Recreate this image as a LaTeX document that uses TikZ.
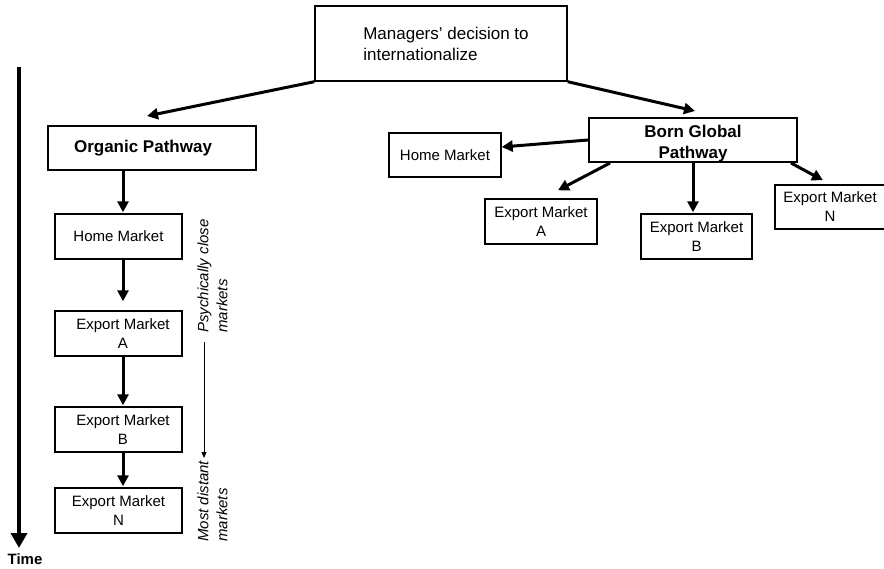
\documentclass[tikz,border=0pt]{standalone}
\usepackage{fontspec}
\setmainfont{Liberation Sans}
\usetikzlibrary{arrows.meta,calc}
\begin{document}
\begin{tikzpicture}[x=1pt,y=-1pt,
  box/.style={draw,line width=1.4pt,inner sep=0pt,align=center,
              font=\fontsize{15}{19}\selectfont},
  titlebox/.style={draw,line width=2pt,inner sep=0pt,
              font=\fontsize{17}{21}\selectfont\bfseries},
  arr/.style={line width=3pt,-{Triangle[length=11pt,width=11pt]}},
  thinarr/.style={line width=1pt,-{Triangle[length=6pt,width=5pt]}},
  side/.style={rotate=90,anchor=west,inner sep=0pt,align=left,
               font=\fontsize{15}{19}\selectfont\itshape}]
\useasboundingbox (0,0) rectangle (884,568);

% decision at the top
\node[draw,line width=1.4pt,minimum width=252pt,minimum height=75pt,
      inner sep=0pt,align=left,font=\fontsize{17}{21}\selectfont]
      (top) at (441,43.5) {\hspace*{10pt}Managers’ decision to\\\hspace*{10pt}internationalize};

% organic pathway column
\node[titlebox,minimum width=208pt,minimum height=44pt] (org) at (152,148)
      {\hspace*{-18pt}Organic Pathway};
\coordinate (colx) at (123,0);
\node[box,minimum width=127pt,minimum height=45pt] (home) at (118.5,236.5) {Home Market};
\node[box,minimum width=127pt,minimum height=45pt] (expA) at (118.5,333.5) {\hspace*{9pt}Export Market\\\hspace*{9pt}A};
\node[box,minimum width=127pt,minimum height=45pt] (expB) at (118.5,429.5) {\hspace*{9pt}Export Market\\\hspace*{9pt}B};
\node[box,minimum width=127pt,minimum height=45pt] (expN) at (118.5,510.5) {Export Market\\N};

\draw[arr] (top.south west) -- ([xshift=-5pt,yshift=9pt]org.north);
\draw[arr] (org.south -| colx) -- ([yshift=1pt]home.north -| colx);
\draw[arr] (home.south -| colx) -- ([yshift=9pt]expA.north -| colx);
\draw[arr] (expA.south -| colx) -- ([yshift=1pt]expB.north -| colx);
\draw[arr] (expB.south -| colx) -- ([yshift=1pt]expN.north -| colx);

% psychic distance scale
\node[side] (close) at (212.5,333) {Psychically close\\markets};
\node[side] (far) at (212.5,542) {Most distant\\markets};
\coordinate (s0) at (204,342);
\coordinate (s1) at (204,458);
\draw[thinarr] (s0) -- (s1);

% time axis
\node[font=\fontsize{15}{18}\selectfont\bfseries,inner sep=0pt] (time) at (25,559) {Time};
\coordinate (t0) at (19,67);
\coordinate (t1) at (19,548);
\draw[line width=4.5pt,-{Triangle[length=15pt,width=16pt]}] (t0) -- (t1);

% born global pathway
\node[titlebox,minimum width=208pt,minimum height=44pt] (bg) at (693,140)
      {\raisebox{-4pt}[\height][\depth]{\begin{tabular}{@{}c@{}}Born Global\\Pathway\end{tabular}}};
\node[box,minimum width=112pt,minimum height=44pt] (homeR) at (445,155) {Home Market};
\node[box,minimum width=112pt,minimum height=45pt] (expAR) at (541,221.5) {Export Market\\A};
\node[box,minimum width=111pt,minimum height=45pt] (expBR) at (696.5,236.5) {Export Market\\B};
\node[box,minimum width=110pt,minimum height=44pt] (expNR) at (830,207) {Export Market\\N};

\draw[arr] (top.south east) -- ([xshift=2pt,yshift=6pt]bg.north);
\draw[arr] (bg.west) -- ([yshift=8pt]homeR.east);
\draw[arr] ([xshift=22pt]bg.south west) -- ([xshift=17pt,yshift=8pt]expAR.north);
\draw[arr] (bg.south) -- ([yshift=1pt]bg.south |- expBR.north);
\draw[arr] ([xshift=-7pt]bg.south east) -- ([xshift=-7pt,yshift=4pt]expNR.north);
\end{tikzpicture}
\end{document}
